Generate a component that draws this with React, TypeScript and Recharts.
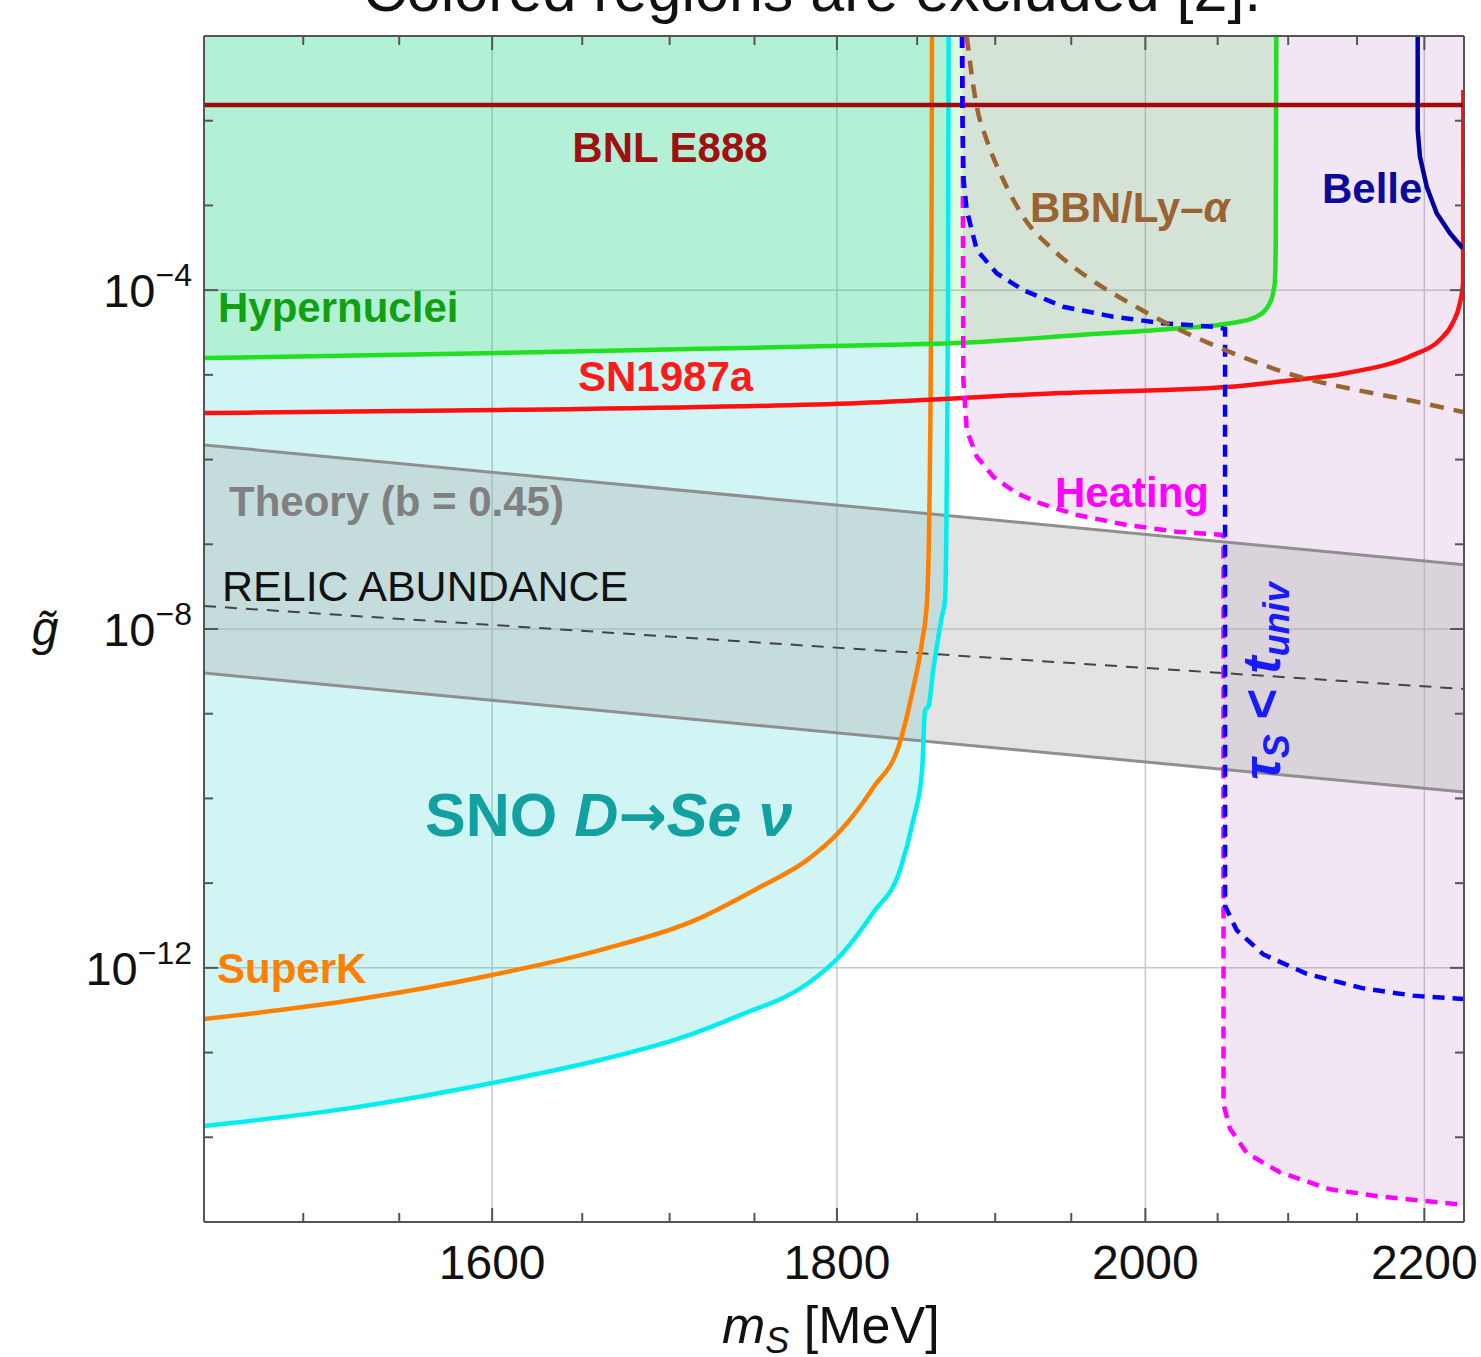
import React from 'react';
import { ComposedChart, Area, Line, XAxis, YAxis, CartesianGrid } from 'recharts';

// m_S in MeV, g~ dimensionless
const massTicks = [1600, 1800, 2000, 2200];
const massAllTicks = [1500, 1550, 1600, 1650, 1700, 1750, 1800, 1850, 1900, 1950, 2000, 2050, 2100, 2150, 2200];
const couplingTicks = [1e-12, 1e-8, 1e-4];
const couplingAllTicks = [1e-14, 1e-13, 1e-12, 1e-11, 1e-10, 1e-9, 1e-8, 1e-7, 1e-6, 1e-5, 1e-4, 1e-3, 1e-2];

const bnlE888 = [
  { m: 1450, g: 1.53e-2 },
  { m: 2230, g: 1.53e-2 },
];

const hypernuclei = [
  { m: 1450, g: 1.58e-5 }, { m: 1604.3, g: 1.81e-5 }, { m: 1717.7, g: 2.03e-5 },
  { m: 1826.6, g: 2.25e-5 }, { m: 1879.1, g: 2.4e-5 }, { m: 1955.7, g: 2.95e-5 },
  { m: 2023.6, g: 3.54e-5 }, { m: 2058.5, g: 4.06e-5 }, { m: 2077.4, g: 4.86e-5 },
  { m: 2086.8, g: 6.99e-5 }, { m: 2090.4, g: 1.2e-4 }, { m: 2091.1, g: 3.26e-4 },
  { m: 2091.5, g: 0.1 },
];

const sn1987a = [
  { m: 1450, g: 3.54e-6 }, { m: 1604.3, g: 3.85e-6 }, { m: 1814.1, g: 4.65e-6 },
  { m: 1942.4, g: 6.1e-6 }, { m: 2056.4, g: 7.18e-6 }, { m: 2094.0, g: 8.34e-6 },
  { m: 2142.5, g: 1.05e-5 }, { m: 2191.3, g: 1.71e-5 }, { m: 2211.6, g: 2.58e-5 },
  { m: 2221.4, g: 4.09e-5 }, { m: 2226.9, g: 7.05e-5 }, { m: 2229.3, g: 1.21e-4 },
  { m: 2229.5, g: 2.3e-2 },
];

const superK = [
  { m: 1450, g: 2.49e-13 }, { m: 1525.7, g: 4.17e-13 }, { m: 1600, g: 8.23e-13 },
  { m: 1659.9, g: 1.62e-12 }, { m: 1717.7, g: 3.87e-12 }, { m: 1753.3, g: 8.99e-12 },
  { m: 1781.7, g: 1.87e-11 }, { m: 1801.9, g: 4.12e-11 }, { m: 1822.3, g: 1.33e-10 },
  { m: 1839.2, g: 4.63e-10 }, { m: 1847.4, g: 1.96e-9 }, { m: 1853.1, g: 7.0e-9 },
  { m: 1856.3, g: 2.2e-8 }, { m: 1858.2, g: 1.3e-6 }, { m: 1859.1, g: 3.0e-4 },
  { m: 1859.4, g: 0.1 },
];

const snoDSev = [
  { m: 1450, g: 1.36e-14 }, { m: 1524.2, g: 2.21e-14 }, { m: 1600, g: 4.37e-14 },
  { m: 1659.9, g: 8.16e-14 }, { m: 1706.0, g: 1.48e-13 }, { m: 1741.4, g: 2.77e-13 },
  { m: 1781.7, g: 6.44e-13 }, { m: 1801.9, g: 1.38e-12 }, { m: 1822.3, g: 4.44e-12 },
  { m: 1839.2, g: 1.43e-11 }, { m: 1847.4, g: 5.41e-11 }, { m: 1853.1, g: 2.1e-10 },
  { m: 1855.0, g: 1.1e-9 }, { m: 1857.2, g: 1.23e-9 }, { m: 1860.1, g: 3.19e-9 },
  { m: 1865.5, g: 1.35e-8 }, { m: 1867.7, g: 2.2e-8 }, { m: 1869.0, g: 1.3e-6 },
  { m: 1869.6, g: 7.65e-5 }, { m: 1870.0, g: 0.1 },
];

const heating = [
  { m: 1878.9, g: 0.1 }, { m: 1879.4, g: 8.69e-6 }, { m: 1881.6, g: 2.23e-6 },
  { m: 1888.1, g: 1.08e-6 }, { m: 1898.8, g: 6.27e-7 }, { m: 1914.0, g: 4.0e-7 },
  { m: 1929.3, g: 3.05e-7 }, { m: 1953.7, g: 2.22e-7 }, { m: 1987.3, g: 1.69e-7 },
  { m: 2021.6, g: 1.41e-7 }, { m: 2052.9, g: 1.29e-7 }, { m: 2054.1, g: 1.22e-7 },
  { m: 2054.1, g: 2.43e-14 }, { m: 2058.7, g: 1.26e-14 }, { m: 2070.5, g: 6.51e-15 },
  { m: 2094.0, g: 3.86e-15 }, { m: 2130.3, g: 2.43e-15 }, { m: 2167.0, g: 2.0e-15 },
  { m: 2204.3, g: 1.75e-15 }, { m: 2229.6, g: 1.59e-15 },
];

const lifetime = [
  { m: 1878.5, g: 0.1 }, { m: 1878.9, g: 1.02e-2 }, { m: 1879.6, g: 2.0e-3 },
  { m: 1881.6, g: 8.83e-4 }, { m: 1888.1, g: 2.98e-4 }, { m: 1901.0, g: 1.58e-4 },
  { m: 1918.3, g: 1.0e-4 }, { m: 1944.7, g: 6.37e-5 }, { m: 1978.2, g: 4.86e-5 },
  { m: 2012.3, g: 4.06e-5 }, { m: 2047.0, g: 3.7e-5 }, { m: 2055.2, g: 3.48e-5 },
  { m: 2055.2, g: 5.37e-12 }, { m: 2063.4, g: 2.78e-12 }, { m: 2082.3, g: 1.44e-12 },
  { m: 2113.4, g: 8.5e-13 }, { m: 2154.6, g: 5.73e-13 }, { m: 2191.7, g: 4.7e-13 },
  { m: 2229.6, g: 4.28e-13 },
];

const bbnLyA = [
  { m: 1881.6, g: 9.81e-2 }, { m: 1888.1, g: 1.46e-2 }, { m: 1894.5, g: 5.92e-3 },
  { m: 1905.3, g: 2.0e-3 }, { m: 1918.3, g: 7.36e-4 }, { m: 1938.1, g: 2.98e-4 },
  { m: 1960.4, g: 1.44e-4 }, { m: 1989.5, g: 6.99e-5 }, { m: 2019.2, g: 3.7e-5 },
  { m: 2047.0, g: 2.25e-5 }, { m: 2072.8, g: 1.5e-5 }, { m: 2108.5, g: 9.43e-6 },
  { m: 2142.7, g: 6.99e-6 }, { m: 2191.5, g: 4.91e-6 }, { m: 2229.3, g: 3.64e-6 },
];

const belle = [
  { m: 2195.0, g: 0.1 }, { m: 2195.0, g: 7.77e-3 }, { m: 2196.7, g: 3.76e-3 },
  { m: 2201.8, g: 1.66e-3 }, { m: 2209.3, g: 8.07e-4 }, { m: 2219.4, g: 4.69e-4 },
  { m: 2229.0, g: 3.12e-4 },
];

const theoryUpper = [
  { m: 1450, g: 1.49e-6 },
  { m: 2230, g: 5.75e-8 },
];
const theoryLower = [
  { m: 1450, g: 3.02e-9 },
  { m: 2230, g: 1.19e-10 },
];
const theoryBand = theoryUpper.map((p, i) => ({ m: p.m, band: [theoryLower[i].g, p.g] }));

const relicAbundance = [
  { m: 1450, g: 1.87e-8 },
  { m: 2230, g: 1.96e-9 },
];

const FONT = '"Liberation Sans", Arial, Helvetica, sans-serif';
const massDomain = [1450, 2230];
const gDomain = [1e-15, 0.1];

// frame edges of the plot box (chart margins + axis sizes)
const PLOT_TOP = 36;
const PLOT_RIGHT = 1464;
const TICK_COLOR = '#555';

function MassTick(props: any) {
  const { x, y, payload } = props;
  const major = massTicks.includes(payload.value);
  const len = major ? 14 : 9;
  return (
    <g>
      <line x1={x} x2={x} y1={y} y2={y - len} stroke={TICK_COLOR} strokeWidth={2} />
      <line x1={x} x2={x} y1={PLOT_TOP} y2={PLOT_TOP + len} stroke={TICK_COLOR} strokeWidth={2} />
      {major && (
        <text x={x} y={y + 57} textAnchor="middle" fontSize={48} fontFamily={FONT} fill="#111">
          {payload.value}
        </text>
      )}
    </g>
  );
}

function PowerTick(props: any) {
  const { x, y, payload } = props;
  const exp = Math.round(Math.log10(payload.value));
  const major = couplingTicks.some((t) => Math.round(Math.log10(t)) === exp);
  const len = major ? 14 : 9;
  return (
    <g>
      <line x1={x} x2={x + len} y1={y} y2={y} stroke={TICK_COLOR} strokeWidth={2} />
      <line x1={PLOT_RIGHT - len} x2={PLOT_RIGHT} y1={y} y2={y} stroke={TICK_COLOR} strokeWidth={2} />
      {major && (
        <text x={x - 12} y={y + 17} textAnchor="end" fontFamily={FONT} fill="#111">
          <tspan fontSize={47}>10</tspan>
          <tspan fontSize={32} dy={-21}>{'\u2212' + Math.abs(exp)}</tspan>
        </text>
      )}
    </g>
  );
}

const frame = { stroke: '#555', strokeWidth: 2 };

function App() {
  return (
    <div style={{ position: 'absolute', left: 0, top: 0, width: 1481, height: 1357, background: '#fff' }}>
      <ComposedChart width={1481} height={1357} margin={{ top: 36, right: 17, bottom: 75, left: 14 }}>
        <XAxis xAxisId="x" dataKey="m" type="number" scale="log" domain={massDomain} allowDataOverflow
          ticks={massAllTicks} interval={0} tick={MassTick} tickSize={0} tickMargin={0} tickLine={false} height={60} axisLine={frame} />
        <XAxis xAxisId="xt" orientation="top" type="number" scale="log" domain={massDomain} allowDataOverflow mirror height={1}
          ticks={massTicks} tick={false} tickLine={false} axisLine={frame} />

        <YAxis yAxisId="y" type="number" scale="log" domain={gDomain} allowDataOverflow width={190}
          ticks={couplingAllTicks} interval={0} tick={PowerTick} tickSize={0} tickMargin={0} tickLine={false} axisLine={frame} />
        <YAxis yAxisId="yr" orientation="right" type="number" scale="log" domain={gDomain} allowDataOverflow mirror width={1}
          ticks={couplingTicks} tick={false} tickLine={false} axisLine={frame} />

        <CartesianGrid xAxisId="x" yAxisId="y" verticalValues={massTicks} horizontalValues={couplingTicks}
          stroke="#c8c8c8" strokeWidth={1.5} />

        <Area xAxisId="x" yAxisId="y" data={hypernuclei} dataKey="g" baseValue="dataMax" type="monotoneX"
          stroke="none" fill="#00e600" fillOpacity={0.14} isAnimationActive={false} />
        <Area xAxisId="x" yAxisId="y" data={snoDSev} dataKey="g" baseValue="dataMax" type="monotoneX"
          stroke="none" fill="#00c8c8" fillOpacity={0.18} isAnimationActive={false} />
        <Area xAxisId="x" yAxisId="y" data={heating} dataKey="g" baseValue="dataMax" type="linear"
          stroke="none" fill="#bc74c2" fillOpacity={0.18} isAnimationActive={false} />
        <Area xAxisId="x" yAxisId="y" data={theoryBand} dataKey="band" type="linear"
          stroke="none" fill="#b1b1b1" fillOpacity={0.36} isAnimationActive={false} />

        <Line xAxisId="x" yAxisId="y" data={theoryUpper} dataKey="g" type="linear" stroke="#8f8f8f" strokeWidth={3} dot={false} isAnimationActive={false} />
        <Line xAxisId="x" yAxisId="y" data={theoryLower} dataKey="g" type="linear" stroke="#8f8f8f" strokeWidth={3} dot={false} isAnimationActive={false} />
        <Line xAxisId="x" yAxisId="y" data={relicAbundance} dataKey="g" type="linear" stroke="#444" strokeWidth={2} strokeDasharray="12 9" dot={false} isAnimationActive={false} />
        <Line xAxisId="x" yAxisId="y" data={snoDSev} dataKey="g" type="monotoneX" stroke="#00eeee" strokeWidth={4.5} dot={false} isAnimationActive={false} />
        <Line xAxisId="x" yAxisId="y" data={superK} dataKey="g" type="monotoneX" stroke="#ff8000" strokeWidth={4.5} dot={false} isAnimationActive={false} />
        <Line xAxisId="x" yAxisId="y" data={hypernuclei} dataKey="g" type="monotoneX" stroke="#20e020" strokeWidth={4.5} dot={false} isAnimationActive={false} />
        <Line xAxisId="x" yAxisId="y" data={sn1987a} dataKey="g" type="monotoneX" stroke="#ff1010" strokeWidth={4.5} dot={false} isAnimationActive={false} />
        <Line xAxisId="x" yAxisId="y" data={bnlE888} dataKey="g" type="linear" stroke="#a00a0a" strokeWidth={4.5} dot={false} isAnimationActive={false} />
        <Line xAxisId="x" yAxisId="y" data={heating} dataKey="g" type="linear" stroke="#ff00ff" strokeWidth={4.5} strokeDasharray="12 8" dot={false} isAnimationActive={false} />
        <Line xAxisId="x" yAxisId="y" data={lifetime} dataKey="g" type="linear" stroke="#0000ff" strokeWidth={4.5} strokeDasharray="12 8" dot={false} isAnimationActive={false} />
        <Line xAxisId="x" yAxisId="y" data={bbnLyA} dataKey="g" type="monotoneX" stroke="#9b6531" strokeWidth={4.5} strokeDasharray="14 10" dot={false} isAnimationActive={false} />
        <Line xAxisId="x" yAxisId="y" data={belle} dataKey="g" type="linear" stroke="#00009c" strokeWidth={4.5} dot={false} isAnimationActive={false} />
      </ComposedChart>

      <svg width={1481} height={1357} style={{ position: 'absolute', left: 0, top: 0, pointerEvents: 'none' }} fontFamily={FONT}>
        <text x={812} y={11} textAnchor="middle" fontSize={61} fill="#111">Colored regions are excluded [2].</text>

        <g fontSize={42} fontWeight="bold">
          <text x={670} y={162} textAnchor="middle" fill="#a01010">BNL E888</text>
          <text x={1030} y={222} fill="#9a6432">BBN/Ly{'\u2013'}<tspan fontStyle="italic">α</tspan></text>
          <text x={1322} y={203} fill="#0a0a9c">Belle</text>
          <text x={218} y={322} fill="#12a012">Hypernuclei</text>
          <text x={578} y={391} fill="#ff1a1a">SN1987a</text>
          <text x={1055} y={507} fill="#ff00ff">Heating</text>
          <text x={229} y={516} fill="#808080">Theory (b = 0.45)</text>
          <text x={217} y={983} fill="#ff7f00">SuperK</text>
        </g>
        <text x={222} y={601} fontSize={43} fill="#111">RELIC ABUNDANCE</text>
        <text x={425} y={836} fontSize={61} fontWeight="bold" fill="#12a0a0">
          SNO <tspan fontStyle="italic">D</tspan>
          <tspan fontFamily='"DejaVu Sans", sans-serif' fontSize={58}>{'\u2192'}</tspan>
          <tspan fontStyle="italic">Se</tspan>
          <tspan fontStyle="italic"> ν</tspan>
        </text>
        <text transform="translate(1280, 780) rotate(-90)" fontSize={53} fontWeight="bold" fill="#1a1aff">
          <tspan fontStyle="italic">τ</tspan>
          <tspan fontSize={36} dy={9} fontStyle="italic">S</tspan>
          <tspan dy={-9}> &lt; </tspan>
          <tspan fontStyle="italic">t</tspan>
          <tspan fontSize={36} dy={9} fontStyle="italic">univ</tspan>
        </text>

        <text x={45} y={645} textAnchor="middle" fontSize={48} fontStyle="italic" fill="#111">g{'\u0303'}</text>
        <text x={722} y={1343} fontSize={52} fill="#111">
          <tspan fontStyle="italic">m</tspan>
          <tspan fontSize={36} dy={10} fontStyle="italic">S</tspan>
          <tspan dy={-10}> [MeV]</tspan>
        </text>
      </svg>
    </div>
  );
}

export default App;
